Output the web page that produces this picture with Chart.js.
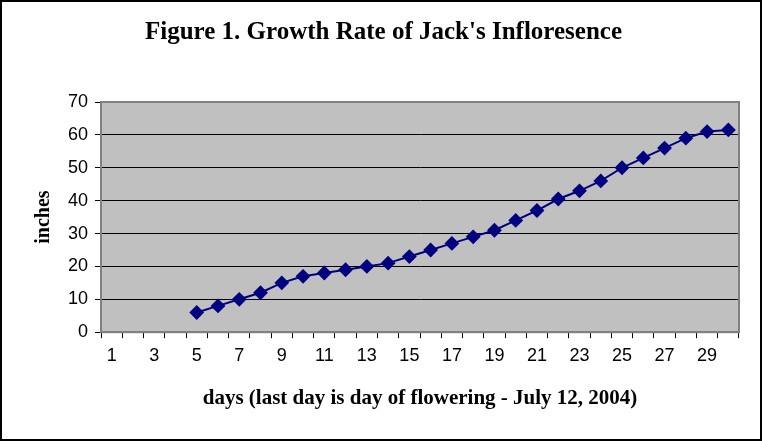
<!DOCTYPE html>
<html>
<head>
<meta charset="utf-8">
<script src="https://cdn.jsdelivr.net/npm/chart.js@4/dist/chart.umd.min.js"></script>
<style>
  html, body { margin: 0; padding: 0; background: #fff; }
  #wrap { width: 762px; height: 441px; position: relative; }
</style>
</head>
<body>
<div id="wrap"><canvas id="LineChart" width="762" height="441"></canvas></div>
<script>
var days = [];
for (var d = 1; d <= 30; d++) days.push(String(d));
// inches, first four days not measured
var inches = [null, null, null, null, 6, 8, 10, 12, 15, 17, 18, 19, 20, 21, 23, 25, 27, 29, 31, 34, 37, 40.5, 43, 46, 50, 53, 56, 59, 61, 61.5];
var yTicks = [0, 10, 20, 30, 40, 50, 60, 70];

// grey plot area + black frame round the picture
var frame = {
    id: 'frame',
    beforeDraw: function (chart) {
        var c = chart.ctx, a = chart.chartArea;
        c.save();
        c.fillStyle = '#fff';
        c.fillRect(0, 0, chart.width, chart.height);
        c.fillStyle = '#c0c0c0';
        c.fillRect(a.left, a.top, a.right - a.left, a.bottom - a.top);
        c.restore();
    },
    afterDraw: function (chart) {
        var c = chart.ctx, a = chart.chartArea;
        c.save();
        c.strokeStyle = '#808080';
        c.lineWidth = 2;
        c.strokeRect(a.left, a.top, a.right - a.left, a.bottom - a.top);
        c.strokeStyle = '#000';
        c.lineWidth = 2;
        c.strokeRect(1, 1, chart.width - 2, chart.height - 2);
        c.restore();
    }
};

var ctx = document.getElementById('LineChart').getContext('2d');
var myChart = new Chart(ctx, {
    type: 'line',
    data: {
        labels: days,
        datasets: [{
            data: inches,
            borderColor: '#000080',
            backgroundColor: '#000080',
            borderWidth: 2,
            pointStyle: 'rectRot',
            pointRadius: 6,
            pointHoverRadius: 6,
            spanGaps: false,
            tension: 0
        }]
    },
    options: {
        responsive: false,
        animation: false,
        layout: { padding: { left: 28, right: 23, top: 10, bottom: 26 } },
        plugins: {
            legend: { display: false },
            tooltip: { enabled: false },
            title: {
                display: true,
                text: "Figure 1. Growth Rate of Jack's Infloresence",
                color: '#000',
                font: { family: 'Liberation Serif', size: 25, weight: 'bold' },
                padding: { top: 8, bottom: 54 }
            }
        },
        scales: {
            x: {
                offset: true,
                grid: { offset: true, drawOnChartArea: false, drawTicks: true, tickLength: 6, color: '#000' },
                border: { display: true, color: '#808080', width: 2 },
                ticks: {
                    autoSkip: false, maxRotation: 0, color: '#000', padding: 7,
                    font: { family: 'Liberation Sans', size: 18 },
                    callback: function (v, i) { return i % 2 === 0 ? days[i] : ''; }
                },
                title: {
                    display: true,
                    text: 'days (last day is day of flowering - July 12, 2004)',
                    color: '#000',
                    font: { family: 'Liberation Serif', size: 21, weight: 'bold' },
                    padding: { top: 12, bottom: 4 }
                }
            },
            y: {
                min: 0, max: 70,
                afterBuildTicks: function (axis) { axis.ticks = yTicks.map(function (v) { return { value: v }; }); },
                grid: { color: '#000', lineWidth: 1, drawTicks: true, tickLength: 6 },
                border: { display: true, color: '#808080', width: 2 },
                ticks: { color: '#000', padding: 7, font: { family: 'Liberation Sans', size: 18 } },
                title: {
                    display: true,
                    text: 'inches',
                    color: '#000',
                    font: { family: 'Liberation Serif', size: 20, weight: 'bold' },
                    padding: { top: 4, bottom: 5 }
                }
            }
        }
    },
    plugins: [frame]
});
</script>
</body>
</html>
